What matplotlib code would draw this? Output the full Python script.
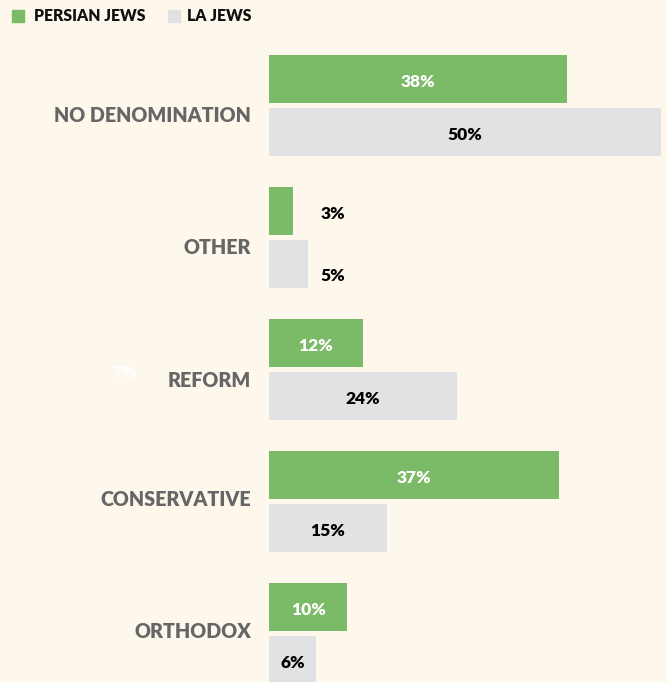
import matplotlib
matplotlib.use("Agg")
import matplotlib.pyplot as plt
from matplotlib.patches import Rectangle

categories = ["NO DENOMINATION", "OTHER", "REFORM", "CONSERVATIVE", "ORTHODOX"]
persian = [38, 3, 12, 37, 10]
la = [50, 5, 24, 15, 6]
series_names = ["PERSIAN JEWS", "LA JEWS"]

# layout tweaks (pixels) for category label vertical offsets, as in the reference
cat_label_dy = [10, 10, 10.5, -2.5, -2.5]

BG = "#FEF7EB"
GREEN = "#7BBA67"
GREY = "#E1E2E4"
LABEL = "#666666"
FONT = "Lato"

W, H = 667, 682
fig = plt.figure(figsize=(W / 100, H / 100), dpi=100, facecolor=BG)
ax_left, ax_right = 269, 661
ax = fig.add_axes([ax_left / W, 0, (ax_right - ax_left) / W, 1])
ax.set_facecolor(BG)
ax.set_xlim(0, 50)
pitch = 132.0
ax.set_ylim((H - 105.5) / pitch, -105.5 / pitch)
ax.axis("off")
pxx = 50 / (ax_right - ax_left)

h = 48 / pitch
off = 26.5 / pitch
for i, cat in enumerate(categories):
    for v, dy, col, tcol in [(persian[i], -off, GREEN, "white"), (la[i], off, GREY, "black")]:
        ax.barh(i + dy, v, height=h, color=col, left=0, clip_on=False)
        ly = i + dy + 3 / pitch
        if v >= 6:
            x, c = v / 2, tcol
        else:
            x, c = 64 * pxx, "black"
            if dy > 0:
                ly += 9 / pitch
        ax.text(x, ly, f"{v}%", ha="center", va="center", fontsize=12.5,
                fontweight="heavy", color=c, family=FONT)
    ax.text(-18 * pxx, i + cat_label_dy[i] / pitch, cat, ha="right", va="center",
            fontsize=14.2, fontweight="heavy", color=LABEL, family=FONT)

# stray faint label visible in the reference
ax.text(-144 * pxx, 2 + 3 / pitch, "7%", ha="center", va="center", fontsize=12.5,
        fontweight="heavy", color="white", family=FONT, clip_on=False)

# legend
fig.patches.append(Rectangle((12 / W, 1 - 22 / H), 12 / W, 12 / H, transform=fig.transFigure,
                             color=GREEN))
fig.text(34 / W, 1 - 16 / H, series_names[0], ha="left", va="center", fontsize=11.3,
         fontweight="heavy", color="#111111", family=FONT)
fig.patches.append(Rectangle((168 / W, 1 - 22 / H), 12 / W, 12 / H, transform=fig.transFigure,
                             color=GREY))
fig.text(187 / W, 1 - 16 / H, series_names[1], ha="left", va="center", fontsize=11.3,
         fontweight="heavy", color="#111111", family=FONT)

fig.savefig("out.png", dpi=100, facecolor=BG)
